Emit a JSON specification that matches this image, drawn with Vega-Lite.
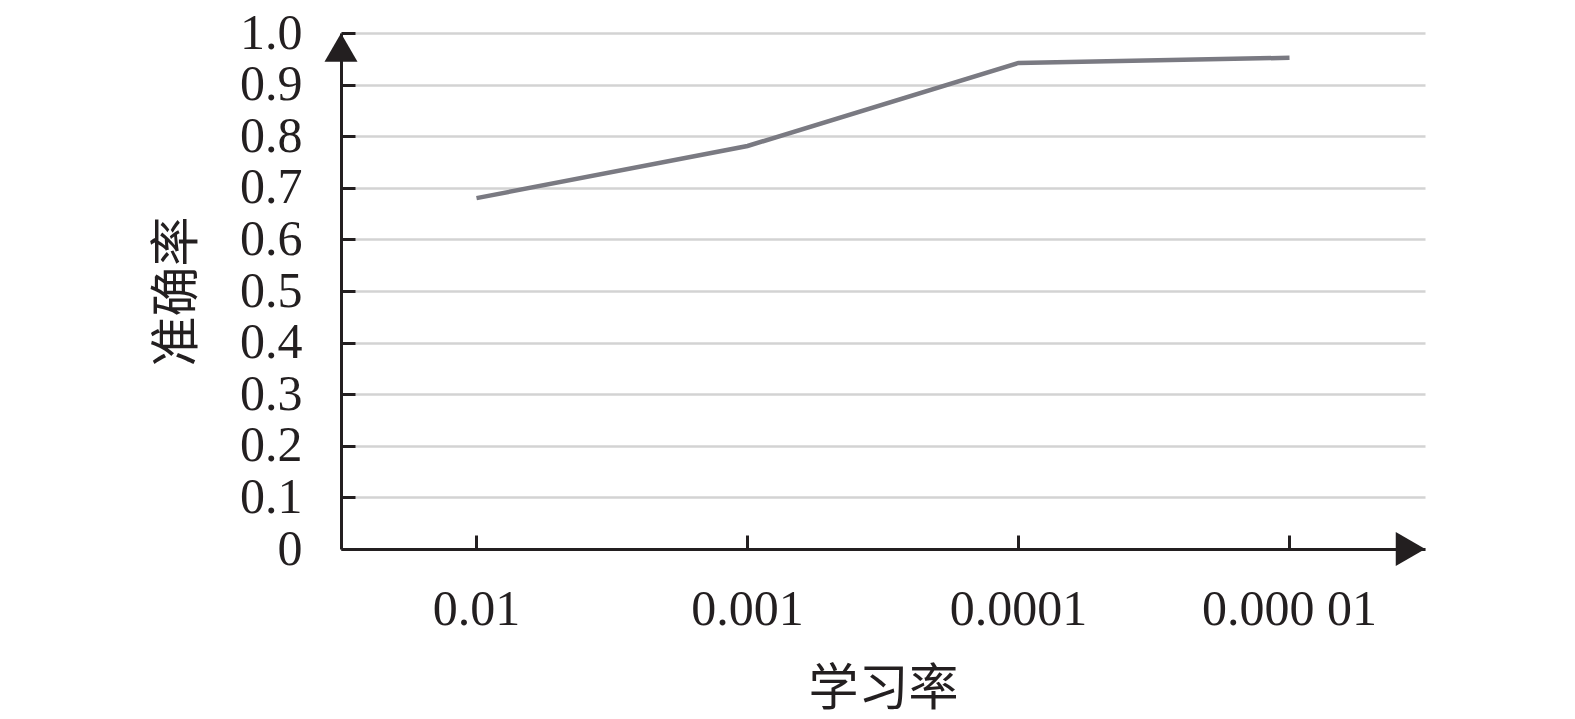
{
  "$schema": "https://vega.github.io/schema/vega-lite/v6.json",
  "description": "准确率 vs 学习率",
  "autosize": "none",
  "width": 1084,
  "height": 516,
  "padding": {"left": 341, "top": 33, "right": 150, "bottom": 170},
  "background": "white",
  "config": {
    "view": {"stroke": null},
    "font": "Liberation Serif"
  },
  "layer": [
    {
      "data": {
        "values": [
          {"rate": "0.01", "accuracy": 0.68},
          {"rate": "0.001", "accuracy": 0.781},
          {"rate": "0.0001", "accuracy": 0.942},
          {"rate": "0.000 01", "accuracy": 0.952}
        ]
      },
      "mark": {"type": "line", "color": "#7a7a82", "strokeWidth": 4.5},
      "encoding": {
        "x": {
          "field": "rate",
          "type": "ordinal",
          "sort": null,
          "scale": {"type": "band", "paddingInner": 0, "paddingOuter": 0},
          "axis": {
            "title": "学习率",
            "titleFont": "Noto Sans CJK SC",
            "titleFontSize": 50,
            "titleFontWeight": "normal",
            "titleColor": "#231f20",
            "titlePadding": 30,
            "labelAngle": 0,
            "labelFontSize": 50,
            "labelColor": "#231f20",
            "labelPadding": 49,
            "domainColor": "#231f20",
            "domainWidth": 3,
            "tickColor": "#231f20",
            "tickWidth": 3,
            "tickSize": -14,
            "grid": false
          }
        },
        "y": {
          "field": "accuracy",
          "type": "quantitative",
          "scale": {"domain": [0, 1], "nice": false},
          "axis": {
            "title": "准确率",
            "titleFont": "Noto Sans CJK SC",
            "titleFontSize": 50,
            "titleFontWeight": "normal",
            "titleColor": "#231f20",
            "titlePadding": 37,
            "values": [0, 0.1, 0.2, 0.3, 0.4, 0.5, 0.6, 0.7, 0.8, 0.9, 1.0],
            "labelExpr": "datum.value == 0 ? '0' : format(datum.value, '.1f')",
            "labelFontSize": 50,
            "labelColor": "#231f20",
            "labelPadding": 53,
            "domainColor": "#231f20",
            "domainWidth": 3,
            "tickColor": "#231f20",
            "tickWidth": 3,
            "tickSize": -14,
            "grid": true,
            "gridColor": "#d3d3d3",
            "gridWidth": 2.5
          }
        }
      }
    },
    {
      "data": {"values": [{"end": "y"}]},
      "mark": {"type": "point", "shape": "triangle-up", "size": 1089, "filled": true, "color": "#231f20", "opacity": 1, "yOffset": 14.5},
      "encoding": {
        "x": {"value": 0},
        "y": {"datum": 1}
      }
    },
    {
      "data": {"values": [{"end": "x"}]},
      "mark": {"type": "point", "shape": "triangle-right", "size": 1156, "filled": true, "color": "#231f20", "opacity": 1, "xOffset": -14.5},
      "encoding": {
        "x": {"value": "width"},
        "y": {"datum": 0}
      }
    }
  ]
}
